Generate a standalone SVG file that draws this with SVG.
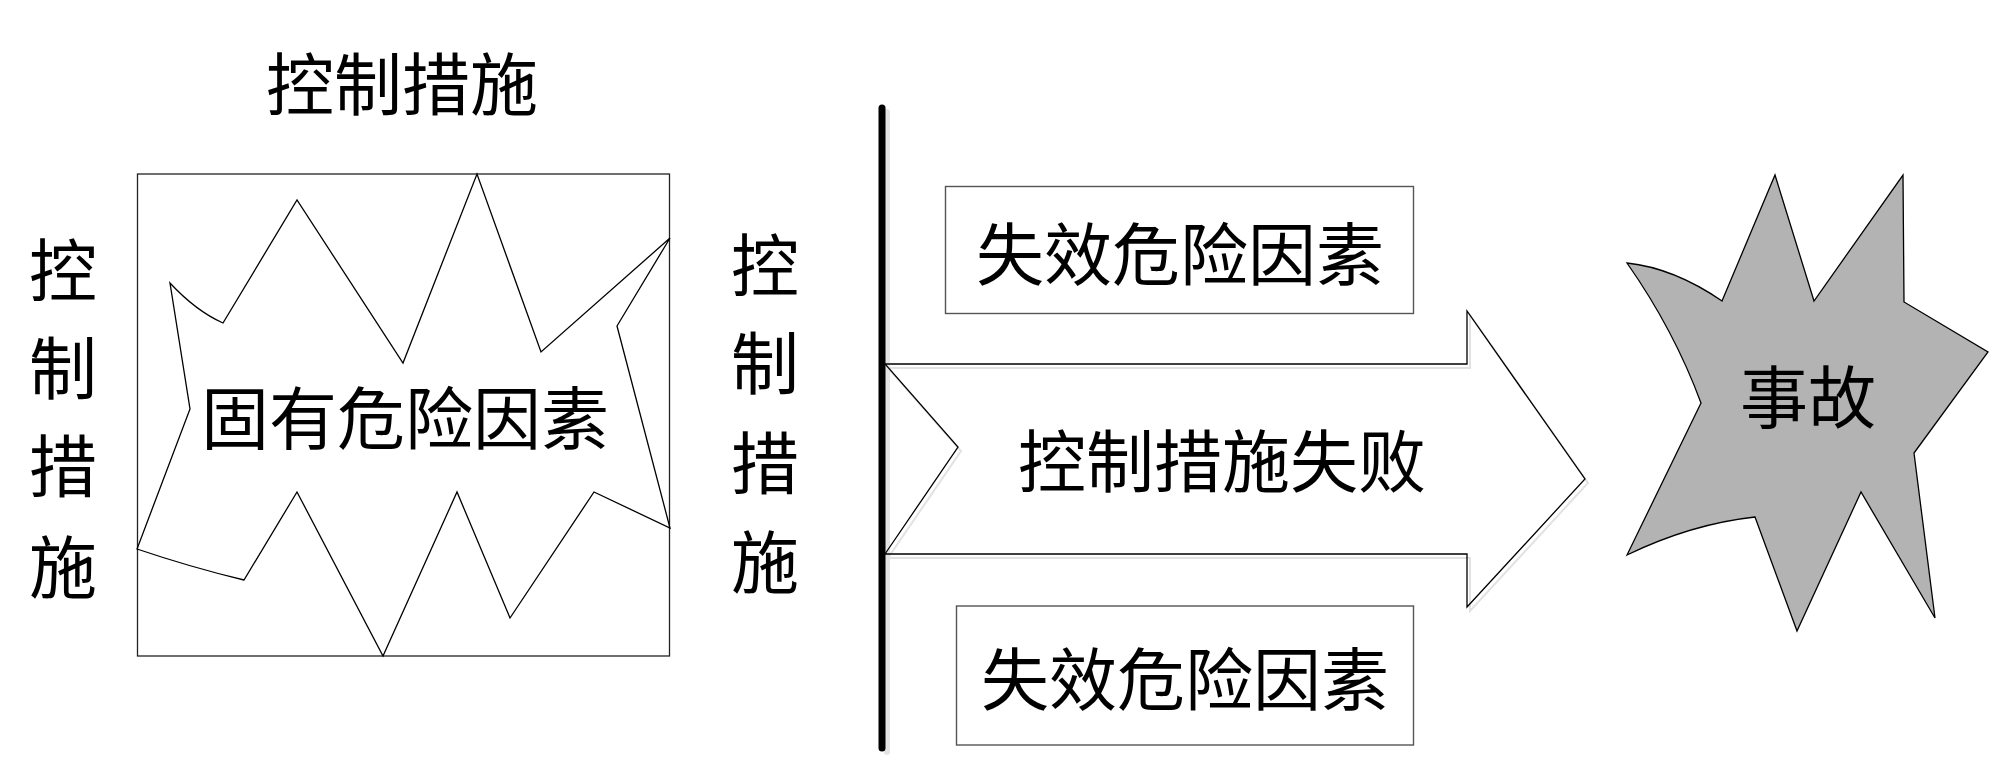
<svg xmlns="http://www.w3.org/2000/svg" width="2000" height="775" viewBox="0 0 2000 775">
<style>
.t{font-family:"Noto Sans CJK SC","Noto Sans CJK JP",sans-serif;font-size:68px;fill:#000;text-anchor:middle;dominant-baseline:central}
.thin{fill:none;stroke:#000;stroke-width:1.3}
.box{fill:#fff;stroke:#555;stroke-width:1.4}
.shadow{fill:none;stroke:#e2e2e2;stroke-width:2}
</style>
<rect width="2000" height="775" fill="#fff"/>
<g id="title-top"><text class="t" x="402" y="80">控制措施</text></g>
<g id="left-measure">
<text class="t"><tspan x="63" y="266">控</tspan><tspan x="63" y="364">制</tspan><tspan x="63" y="462">措</tspan><tspan x="63" y="563">施</tspan></text>
</g>
<g id="inherent">
<rect x="137.5" y="174" width="532" height="482" fill="#fff" stroke="#222" stroke-width="1.3"/>
<path class="thin" d="M170,283 Q196,311 223,323 L297,200 L403,363 L477,174 L541,352 L670,238 L617,326 L670,528 L594,492 L510,618 L457,492 L383,656 L297,492 L244,580 Q190,567 137,549 L190,409 Z"/>
<text class="t" x="405" y="414">固有危险因素</text>
</g>
<g id="right-measure">
<text class="t"><tspan x="765" y="261">控</tspan><tspan x="765" y="359">制</tspan><tspan x="765" y="459">措</tspan><tspan x="765" y="558">施</tspan></text>
</g>
<g id="barrier">
<line x1="887" y1="112" x2="887" y2="752" stroke="#e4e4e4" stroke-width="6" stroke-linecap="round"/>
<line x1="882" y1="108" x2="882" y2="748" stroke="#000" stroke-width="7" stroke-linecap="round"/>
</g>
<g id="failure-top">
<rect class="box" x="945.5" y="186.5" width="468" height="127"/>
<text class="t" x="1180" y="250">失效危险因素</text>
</g>
<g id="connectors">
<polygon class="shadow" points="888,368 1470,368 1470,315 1588,483 1470,611 1470,558 888,558 961,451"/>
<polygon fill="none" stroke="#000" stroke-width="1.3" points="885,364 1467,364 1467,311 1585,479 1467,607 1467,554 885,554 958,447"/>
<text class="t" x="1222" y="457">控制措施失败</text>
</g>
<g id="failure-bottom">
<rect class="box" x="956.5" y="606" width="457" height="139"/>
<text class="t" x="1185" y="675">失效危险因素</text>
</g>
<g id="accident">
<path fill="#b3b3b3" stroke="#000" stroke-width="1.3" d="M1627,263 Q1674,268 1722,301 L1775,175 L1814,301 L1903,175 L1904,302 L1988,352 L1914,453 L1935,618 L1861,492 L1797,631 L1755,517 Q1691,524 1627,555 L1701,403 Q1674,330 1627,263 Z"/>
<text class="t" x="1808" y="393">事故</text>
</g>
</svg>
